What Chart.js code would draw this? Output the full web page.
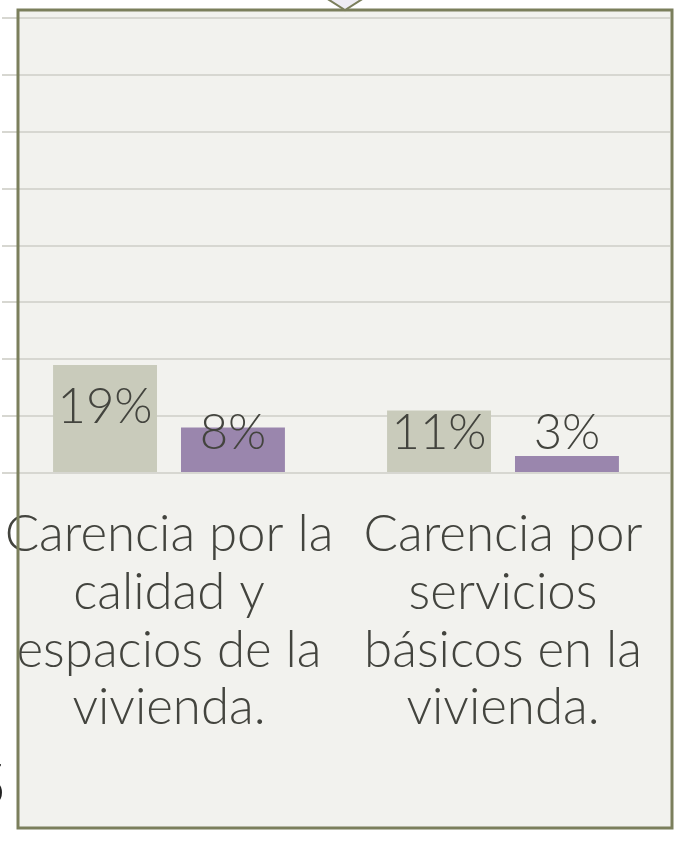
<!DOCTYPE html>
<html>
<head>
<meta charset="utf-8">
<script src="https://cdn.jsdelivr.net/npm/chart.js@4.4.1/dist/chart.umd.min.js"></script>
<style>
  html, body { margin: 0; padding: 0; background: #ffffff; }
  #wrap { width: 692px; height: 841px; position: relative; }
</style>
</head>
<body>
<div id="wrap"><canvas id="carencias" width="692" height="841"></canvas></div>
<script>
const categories = [
  ["Carencia por la", "calidad y", "espacios de la", "vivienda."],
  ["Carencia por", "servicios", "básicos en la", "vivienda."]
];
const serieA = [19, 11];
const serieB = [8, 3];
const yTicks = [0, 10, 20, 30, 40, 50, 60, 70, 80];

const FONT = "Lato, 'Open Sans', sans-serif";
const TEXT = "#43443e";
const OLIVE = "#7b7f5c";

// Panel: fill behind the chart, border on top, plus the cropped neighbours
const panelPlugin = {
  id: "panel",
  beforeDraw(chart) {
    const ctx = chart.ctx;
    ctx.save();
    ctx.fillStyle = "#ffffff";
    ctx.fillRect(0, 0, chart.width, chart.height);
    ctx.fillStyle = "#f2f2ee";
    ctx.fillRect(18, 10, 654, 818);
    ctx.restore();
  },
  afterDraw(chart) {
    const ctx = chart.ctx;
    ctx.save();
    ctx.strokeStyle = OLIVE;
    ctx.lineWidth = 3;
    ctx.strokeRect(18, 10, 654, 818);
    // arrow tip above the panel
    ctx.beginPath();
    ctx.moveTo(326, -2);
    ctx.lineTo(345, 10);
    ctx.lineTo(364, -2);
    ctx.fillStyle = "#eeecf3";
    ctx.fill();
    ctx.lineWidth = 2;
    ctx.stroke();
    // cut-off digit at the left edge
    ctx.fillStyle = "#222222";
    ctx.font = "300 62px " + FONT;
    ctx.textAlign = "right";
    ctx.textBaseline = "alphabetic";
    ctx.fillText("5", 7, 807);
    ctx.restore();
  }
};

// Value labels: inside end, pushed up when the bar is too short
const valueLabels = {
  id: "valueLabels",
  afterDatasetsDraw(chart) {
    const ctx = chart.ctx;
    ctx.save();
    ctx.font = "300 49px " + FONT;
    ctx.fillStyle = TEXT;
    ctx.textAlign = "center";
    ctx.textBaseline = "middle";
    chart.data.datasets.forEach((ds, i) => {
      chart.getDatasetMeta(i).data.forEach((bar, j) => {
        const y = Math.min(bar.y + 42.5, bar.base - 38.5);
        ctx.fillText(ds.data[j] + "%", bar.x, y);
      });
    });
    ctx.restore();
  }
};

new Chart(document.getElementById("carencias"), {
  type: "bar",
  data: {
    labels: categories,
    datasets: [
      { label: "A", data: serieA, backgroundColor: "#c9cbbb" },
      { label: "B", data: serieB, backgroundColor: "#9a86ad" }
    ]
  },
  plugins: [panelPlugin, valueLabels],
  options: {
    animation: false,
    responsive: false,
    devicePixelRatio: 1,
    layout: { padding: { left: 2, right: 22, top: 18, bottom: 0 } },
    plugins: { legend: { display: false }, tooltip: { enabled: false } },
    datasets: { bar: { barPercentage: 0.8125, categoryPercentage: 0.766 } },
    scales: {
      x: {
        grid: { display: false },
        border: { display: false },
        ticks: {
          color: TEXT,
          font: { family: FONT, size: 51, weight: 300, lineHeight: 1.13 },
          padding: 25,
          maxRotation: 0,
          autoSkip: false
        },
        afterFit(s) {
          s.height = 368;
          s.paddingLeft = 0;
          s.paddingRight = 0;
        }
      },
      y: {
        min: 0,
        max: 80,
        afterBuildTicks(s) { s.ticks = yTicks.map(v => ({ value: v })); },
        ticks: { display: false },
        border: { display: false },
        grid: { color: "#d7d7d1", lineWidth: 2, drawTicks: false },
        afterFit(s) { s.width = 0; }
      }
    }
  }
});
</script>
</body>
</html>
